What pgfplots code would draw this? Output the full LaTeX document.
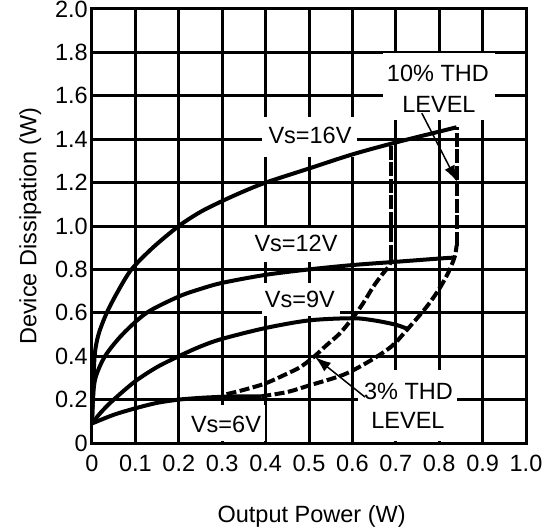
\documentclass[border=0pt]{standalone}
\usepackage{fontspec}
\setmainfont{Liberation Sans}
\usepackage{pgfplots}
\pgfplotsset{compat=1.18}
\usetikzlibrary{arrows.meta}
\newcommand{\lbl}{\fontsize{23.5}{30}\selectfont}
\begin{document}
\begin{tikzpicture}
\path[use as bounding box] (-92pt,-88pt) rectangle (461pt,443pt);
\begin{axis}[
  at={(0pt,0pt)}, anchor=south west,
  scale only axis, width=434pt, height=434pt,
  xmin=0, xmax=1, ymin=0, ymax=2,
  clip=false,
  xtick={0,0.1,0.2,0.3,0.4,0.5,0.6,0.7,0.8,0.9,1.0},
  xticklabels={0,0.1,0.2,0.3,0.4,0.5,0.6,0.7,0.8,0.9,1.0},
  ytick={0,0.2,0.4,0.6,0.8,1.0,1.2,1.4,1.6,1.8,2.0},
  yticklabels={0,0.2,0.4,0.6,0.8,1.0,1.2,1.4,1.6,1.8,2.0},
  grid=major,
  major grid style={line width=3pt, black},
  axis line style={line width=3pt, black},
  major tick length=0pt,
  tick style={draw=none},
  xticklabel style={anchor=base, yshift=-28pt, font=\lbl},
  yticklabel style={anchor=east, inner sep=0pt, xshift=-4pt, font=\lbl},
]
% white label boxes
\fill[white] (axis cs:0.6705,1.797) rectangle (axis cs:0.9286,1.488);
\fill[white] (axis cs:0.3917,1.502) rectangle (axis cs:0.6106,1.318);
\fill[white] (axis cs:0.3687,0.9908) rectangle (axis cs:0.5714,0.8341);
\fill[white] (axis cs:0.3917,0.7373) rectangle (axis cs:0.5714,0.5853);
\fill[white] (axis cs:0.2143,0.1751) rectangle (axis cs:0.3986,0.0092);
\fill[white] (axis cs:0.6129,0.3364) rectangle (axis cs:0.841,0.0092);

% Vs=16V
\addplot[black, line width=4pt, smooth, tension=0.5] coordinates {
 (0,0.09) (0.002,0.2) (0.006,0.4) (0.015,0.5) (0.034,0.6) (0.06,0.7)
 (0.091,0.8) (0.14,0.9) (0.2,1.0) (0.25,1.065) (0.3,1.115) (0.35,1.16)
 (0.4,1.2) (0.5,1.265) (0.6,1.33) (0.7,1.385) (0.8,1.435) (0.84,1.455)};
% Vs=12V
\addplot[black, line width=4pt, smooth, tension=0.5] coordinates {
 (0,0.09) (0.002,0.2) (0.008,0.3) (0.03,0.4) (0.07,0.5) (0.126,0.6)
 (0.2,0.675) (0.25,0.71) (0.3,0.738) (0.4,0.775) (0.5,0.80)
 (0.6,0.82) (0.7,0.835) (0.8,0.85) (0.838,0.855)};
% Vs=9V
\addplot[black, line width=4pt, smooth, tension=0.5] coordinates {
 (0,0.09) (0.02,0.14) (0.05,0.20) (0.1,0.285) (0.15,0.35) (0.2,0.40)
 (0.25,0.445) (0.3,0.48) (0.4,0.53) (0.5,0.565) (0.6,0.575) (0.65,0.565)
 (0.7,0.545) (0.728,0.525)};
% Vs=6V
\addplot[black, line width=4pt, smooth, tension=0.5] coordinates {
 (0,0.09) (0.05,0.13) (0.1,0.16) (0.15,0.185) (0.2,0.20) (0.25,0.208)
 (0.3,0.213) (0.35,0.215) (0.39,0.215)};
% 3% THD (inner dashed)
\addplot[black, line width=4pt, dash pattern=on 10pt off 3.5pt, smooth, tension=0.5] coordinates {
 (0.31,0.225) (0.35,0.245) (0.4,0.275) (0.45,0.32) (0.48,0.35) (0.51,0.395)
 (0.54,0.45) (0.571,0.505) (0.602,0.58) (0.625,0.645) (0.648,0.72)
 (0.668,0.775) (0.684,0.815) (0.69,0.85)};
\addplot[black, line width=4pt, dash pattern=on 14pt off 2.5pt] coordinates {
 (0.69,0.85) (0.69,1.385)};
% 10% THD (outer dashed)
\addplot[black, line width=4pt, dash pattern=on 10pt off 3.5pt, smooth, tension=0.5] coordinates {
 (0.39,0.215) (0.45,0.235) (0.5,0.265) (0.58,0.315) (0.64,0.378) (0.69,0.445)
 (0.725,0.52) (0.77,0.625) (0.80,0.71) (0.822,0.79) (0.836,0.86) (0.84,0.91)};
\addplot[black, line width=4pt, dash pattern=on 14pt off 2.5pt] coordinates {
 (0.84,0.91) (0.84,1.455)};

% arrows
\draw[line width=1.5pt, -{Latex[length=16pt,width=11pt]}] (axis cs:0.76,1.52) -- (axis cs:0.841,1.205);
\draw[line width=1.5pt, -{Latex[length=16pt,width=11pt]}] (axis cs:0.629,0.212) -- (axis cs:0.514,0.396);

% labels
\node[font=\lbl] at (axis cs:0.797,1.703) {10\% THD};
\node[font=\lbl] at (axis cs:0.7995,1.562) {LEVEL};
\node[font=\lbl] at (axis cs:0.5023,1.419) {Vs=16V};
\node[font=\lbl] at (axis cs:0.470,0.919) {Vs=12V};
\node[font=\lbl] at (axis cs:0.479,0.661) {Vs=9V};
\node[font=\lbl] at (axis cs:0.3088,0.0853) {Vs=6V};
\node[font=\lbl] at (axis cs:0.7293,0.2373) {3\% THD};
\node[font=\lbl] at (axis cs:0.728,0.1037) {LEVEL};

% frame redraw
\draw[line width=3pt, black] (rel axis cs:0,0) rectangle (rel axis cs:1,1);

% axis labels
\node[font=\lbl, anchor=base, yshift=-79pt] at (rel axis cs:0.506,0) {Output Power (W)};
\path (rel axis cs:0,0.5) ++(-55.5pt,0pt) node[font=\lbl, rotate=90, anchor=base] {Device Dissipation (W)};
\end{axis}
\end{tikzpicture}
\end{document}
